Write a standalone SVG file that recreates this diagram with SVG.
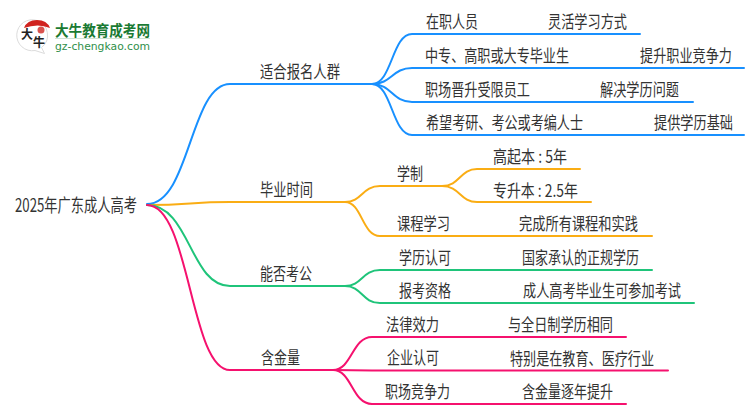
<svg xmlns="http://www.w3.org/2000/svg" width="750" height="410" viewBox="0 0 750 410">
<style>
text{font-family:"Noto Sans CJK SC","Noto Sans",sans-serif;font-size:17px;fill:#333}
.c{fill:none;stroke-width:2;stroke-linecap:round}
.b{stroke:#1890ff}.o{stroke:#faad14}.g{stroke:#1fc47a}.p{stroke:#f5116e}
text.lt{font-size:15px;font-weight:700;fill:#1a7a33}
text.lu{font-size:11px;fill:#2f8f4a;font-family:"DejaVu Sans",sans-serif}
text.lg{font-size:12px;fill:#222;font-weight:700}
</style>
<rect width="750" height="410" fill="#fff"/>
<g id="logo">
<path d="M37 20.500a15.500 15.500 0 1 0-2 30l9.500 3-3-6a15.500 15.500 0 0 0-4.500-27z" fill="#fff" stroke="#dcdcdc"/>
<path d="M24 28q3-8 13-8q10 0 13 8q-12-5-26 0z" fill="#d0231f"/>
<circle cx="41" cy="30" r="3.500" fill="#d9534f"/>
<text class="lg" x="21" y="39">大</text>
<text class="lg" x="33" y="47">牛</text>
<text class="lt" x="55" y="36" textLength="95" lengthAdjust="spacingAndGlyphs">大牛教育成考网</text>
<rect x="55" y="38" width="95" height="1" fill="#cfe3d4"/>
<text class="lu" x="55" y="50" textLength="95" lengthAdjust="spacingAndGlyphs">gz-chengkao.com</text>
</g>
<g id="connectors">
<path class="c b" d="M147 204C190 204 190 84 230 84L372 84"/>
<path class="c o" d="M147 205C190 205 190 202 230 202L345 202"/>
<path class="c g" d="M147 205C190 205 190 286 230 286L345 286"/>
<path class="c p" d="M147 205C190 205 190 370 230 370L333 370"/>
<path class="c b" d="M372 84C392 84 392 34 412 34L640 34"/>
<path class="c b" d="M372 84C392 84 392 68 412 68L744 68"/>
<path class="c b" d="M372 84C392 84 392 102 412 102L693 102"/>
<path class="c b" d="M372 84C392 84 392 135 412 135L744 135"/>
<path class="c o" d="M345 202C362 202 362 186 380 186L442 186"/>
<path class="c o" d="M345 202C362 202 362 236 380 236L652 236"/>
<path class="c o" d="M442 186C460 186 460 169 477 169L580 169"/>
<path class="c o" d="M442 186C460 186 460 202 477 202L591 202"/>
<path class="c g" d="M345 286C362 286 362 270 380 270L652 270"/>
<path class="c g" d="M345 286C362 286 362 303 380 303L694 303"/>
<path class="c p" d="M333 370C352 370 352 337 372 337L626 337"/>
<path class="c p" d="M333 370L372 370.500L668 370.500"/>
<path class="c p" d="M333 370C352 370 352 404 372 404L626 404"/>
</g>
<g id="root"><text x="15" y="212" style="font-size:18px" textLength="122" lengthAdjust="spacingAndGlyphs">2025年广东成人高考</text></g>
<g id="n1"><text x="260" y="78" textLength="80" lengthAdjust="spacingAndGlyphs">适合报名人群</text></g>
<g id="n1-1"><text x="426" y="28" textLength="52" lengthAdjust="spacingAndGlyphs">在职人员</text></g>
<g id="n1-1-1"><text x="548" y="28" textLength="79" lengthAdjust="spacingAndGlyphs">灵活学习方式</text></g>
<g id="n1-2"><text x="425" y="62" textLength="144" lengthAdjust="spacingAndGlyphs">中专、高职或大专毕业生</text></g>
<g id="n1-2-1"><text transform="translate(640 62) scale(.773 1)">提升职业竞争力</text></g>
<g id="n1-3"><text x="425" y="96" textLength="105" lengthAdjust="spacingAndGlyphs">职场晋升受限员工</text></g>
<g id="n1-3-1"><text x="600" y="96" textLength="79" lengthAdjust="spacingAndGlyphs">解决学历问题</text></g>
<g id="n1-4"><text x="426" y="129" textLength="157" lengthAdjust="spacingAndGlyphs">希望考研、考公或考编人士</text></g>
<g id="n1-4-1"><text transform="translate(654 129) scale(.775 1)">提供学历基础</text></g>
<g id="n2"><text x="260" y="196" textLength="53" lengthAdjust="spacingAndGlyphs">毕业时间</text></g>
<g id="n2-1"><text x="397" y="180" textLength="26" lengthAdjust="spacingAndGlyphs">学制</text></g>
<g id="n2-1-1"><text x="493" y="163" textLength="74" lengthAdjust="spacingAndGlyphs">高起本 : 5年</text></g>
<g id="n2-1-2"><text x="493" y="197" textLength="85" lengthAdjust="spacingAndGlyphs">专升本 : 2.5年</text></g>
<g id="n2-2"><text x="397" y="230" textLength="53" lengthAdjust="spacingAndGlyphs">课程学习</text></g>
<g id="n2-2-1"><text x="519" y="230" textLength="119" lengthAdjust="spacingAndGlyphs">完成所有课程和实践</text></g>
<g id="n3"><text x="260" y="280" textLength="52" lengthAdjust="spacingAndGlyphs">能否考公</text></g>
<g id="n3-1"><text x="399" y="264" textLength="52" lengthAdjust="spacingAndGlyphs">学历认可</text></g>
<g id="n3-1-1"><text x="522" y="264" textLength="117" lengthAdjust="spacingAndGlyphs">国家承认的正规学历</text></g>
<g id="n3-2"><text x="399" y="297" textLength="52" lengthAdjust="spacingAndGlyphs">报考资格</text></g>
<g id="n3-2-1"><text x="523" y="297" textLength="158" lengthAdjust="spacingAndGlyphs">成人高考毕业生可参加考试</text></g>
<g id="n4"><text x="261" y="364" textLength="39" lengthAdjust="spacingAndGlyphs">含金量</text></g>
<g id="n4-1"><text x="386" y="331" textLength="53" lengthAdjust="spacingAndGlyphs">法律效力</text></g>
<g id="n4-1-1"><text x="508" y="331" textLength="105" lengthAdjust="spacingAndGlyphs">与全日制学历相同</text></g>
<g id="n4-2"><text x="387" y="364" textLength="52" lengthAdjust="spacingAndGlyphs">企业认可</text></g>
<g id="n4-2-1"><text x="510" y="365" textLength="144" lengthAdjust="spacingAndGlyphs">特别是在教育、医疗行业</text></g>
<g id="n4-3"><text x="385" y="398" textLength="65" lengthAdjust="spacingAndGlyphs">职场竞争力</text></g>
<g id="n4-3-1"><text x="522" y="398" textLength="91" lengthAdjust="spacingAndGlyphs">含金量逐年提升</text></g>
</svg>
